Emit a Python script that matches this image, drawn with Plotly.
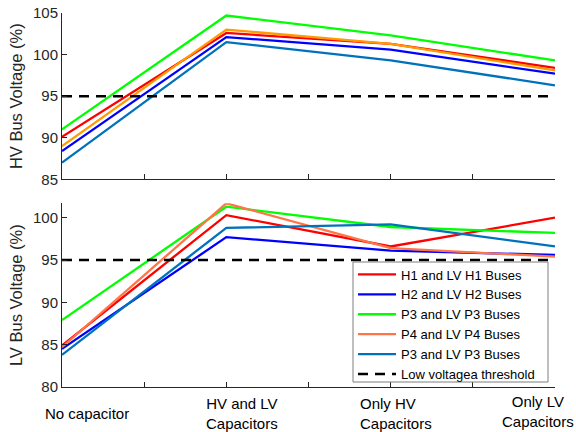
import plotly.graph_objects as go

# ---- data ----
categories = ["No capacitor", "HV and LV<br>Capacitors", "Only HV<br>Capacitors", "Only LV<br>Capacitors"]
x_pos = [1, 2, 3, 4]

series_names = ["H1 and LV H1 Buses", "H2 and LV H2 Buses", "P3 and LV P3 Buses",
                "P4 and LV P4 Buses", "P3 and LV P3 Buses"]

hv_H1 = [90.1, 102.6, 101.3, 98.4]
hv_H2 = [88.4, 102.1, 100.6, 97.7]
hv_P3 = [91.0, 104.7, 102.3, 99.3]
hv_P4 = [89.0, 103.0, 101.3, 98.1]
hv_P3b = [87.0, 101.5, 99.3, 96.3]

lv_H1 = [84.9, 100.3, 96.6, 100.0]
lv_H2 = [84.5, 97.7, 96.1, 95.6]
lv_P3 = [87.9, 101.3, 98.9, 98.2]
lv_P4 = [84.7, 101.7, 96.4, 95.4]
lv_P3b = [83.8, 98.8, 99.2, 96.6]

threshold = [95, 95, 95, 95]
threshold_name = "Low voltagea threshold"

hv_ticks = [85, 90, 95, 100, 105]
lv_ticks = [80, 85, 90, 95, 100]
x_ticks = [1, 1.5, 2, 2.5, 3, 3.5, 4]

hv_colors = ["#FF0000", "#0000FF", "#00FF00", "#FF9A00", "#0072BD"]
lv_colors = ["#FF0000", "#0000FF", "#00FF00", "#FF7548", "#0072BD"]

FONT = "Liberation Sans, Arial, sans-serif"
AX = "#262626"

W, H = 576, 432
PL, PR, PT, PB = 62, 555, 13, 387  # plot area in window pixels
ml, mr, mt, mb = PL, W - PR, PT, H - PB
plot_w = PR - PL
plot_h = PB - PT


def fx(px):
    return (px - PL) / plot_w


def fy(py):
    return (PB - py) / plot_h


fig = go.Figure()

hv_all = [hv_H1, hv_H2, hv_P3, hv_P4, hv_P3b]
lv_all = [lv_H1, lv_H2, lv_P3, lv_P4, lv_P3b]

for name, vals, c in zip(series_names, hv_all, hv_colors):
    fig.add_trace(go.Scatter(x=x_pos, y=vals, mode="lines", name=name, showlegend=False,
                             line=dict(color=c, width=2.3), xaxis="x", yaxis="y"))
fig.add_trace(go.Scatter(x=x_pos, y=threshold, mode="lines", name=threshold_name, showlegend=False,
                         line=dict(color="black", width=2.5, dash="10px,7px"), xaxis="x", yaxis="y"))

for name, vals, c in zip(series_names, lv_all, lv_colors):
    fig.add_trace(go.Scatter(x=x_pos, y=vals, mode="lines", name=name, showlegend=True,
                             line=dict(color=c, width=2.3), xaxis="x2", yaxis="y2"))
fig.add_trace(go.Scatter(x=x_pos, y=threshold, mode="lines", name=threshold_name, showlegend=True,
                         line=dict(color="black", width=2.5, dash="10px,7px"), xaxis="x2", yaxis="y2"))

axis_common = dict(showgrid=False, zeroline=False, showline=True, linecolor=AX, linewidth=1,
                   ticks="inside", ticklen=5, tickcolor=AX, tickwidth=1, automargin=False,
                   ticklabeloverflow="allow",
                   tickfont=dict(family=FONT, size=15, color=AX))

fig.update_layout(
    template="none",
    width=W, height=H,
    margin=dict(l=ml, r=mr, t=mt, b=mb, autoexpand=False),
    paper_bgcolor="white", plot_bgcolor="white",
    font=dict(family=FONT, color=AX),
    xaxis=dict(axis_common, domain=[0, 1], range=[1, 4], tickmode="array", tickvals=x_ticks,
               showticklabels=False, anchor="y"),
    yaxis=dict(axis_common, domain=[fy(179.3), 1], range=[85, 105], tickmode="array",
               tickvals=hv_ticks, ticktext=[str(v) for v in hv_ticks], anchor="x",
               title=dict(text="HV Bus Voltage (%)", font=dict(family=FONT, size=16.5, color=AX), standoff=6)),
    xaxis2=dict(axis_common, domain=[0, 1], range=[1, 4], tickmode="array", tickvals=x_ticks,
                showticklabels=False, anchor="y2"),
    yaxis2=dict(axis_common, domain=[0, fy(203.3)], range=[80, 101.7], tickmode="array",
                tickvals=lv_ticks, ticktext=[str(v) for v in lv_ticks], anchor="x2",
                title=dict(text="LV Bus Voltage (%)", font=dict(family=FONT, size=16.5, color=AX), standoff=6)),
    legend=dict(x=fx(353), y=fy(259.5), xanchor="left", yanchor="top", itemwidth=38,
                bgcolor="rgba(0,0,0,0)", borderwidth=0,
                font=dict(family=FONT, size=13, color="black"), tracegroupgap=0),
    shapes=[dict(type="rect", xref="paper", yref="paper", layer="above",
                 x0=fx(353), x1=fx(548), y0=fy(382), y1=fy(262),
                 fillcolor="white", line=dict(color="#7f7f7f", width=1))],
)

label_x = [1.152, 2.095, 2.80, 3.897]
label_anchor = ["center", "center", "left", "center"]
label_center_y = [413, 413, 413, 411.5]
annotations = []
for txt, xv, anc, cy in zip(categories, label_x, label_anchor, label_center_y):
    annotations.append(dict(text=txt, x=xv, xref="x2", y=0, yref="paper", xanchor=anc,
                            yanchor="middle", yshift=-(cy - PB), align=anc,
                            showarrow=False, font=dict(family=FONT, size=15, color="black")))
fig.update_layout(annotations=annotations)

fig.write_html("out.html", config={"displayModeBar": False},
               post_script="document.body.style.margin='0';")
